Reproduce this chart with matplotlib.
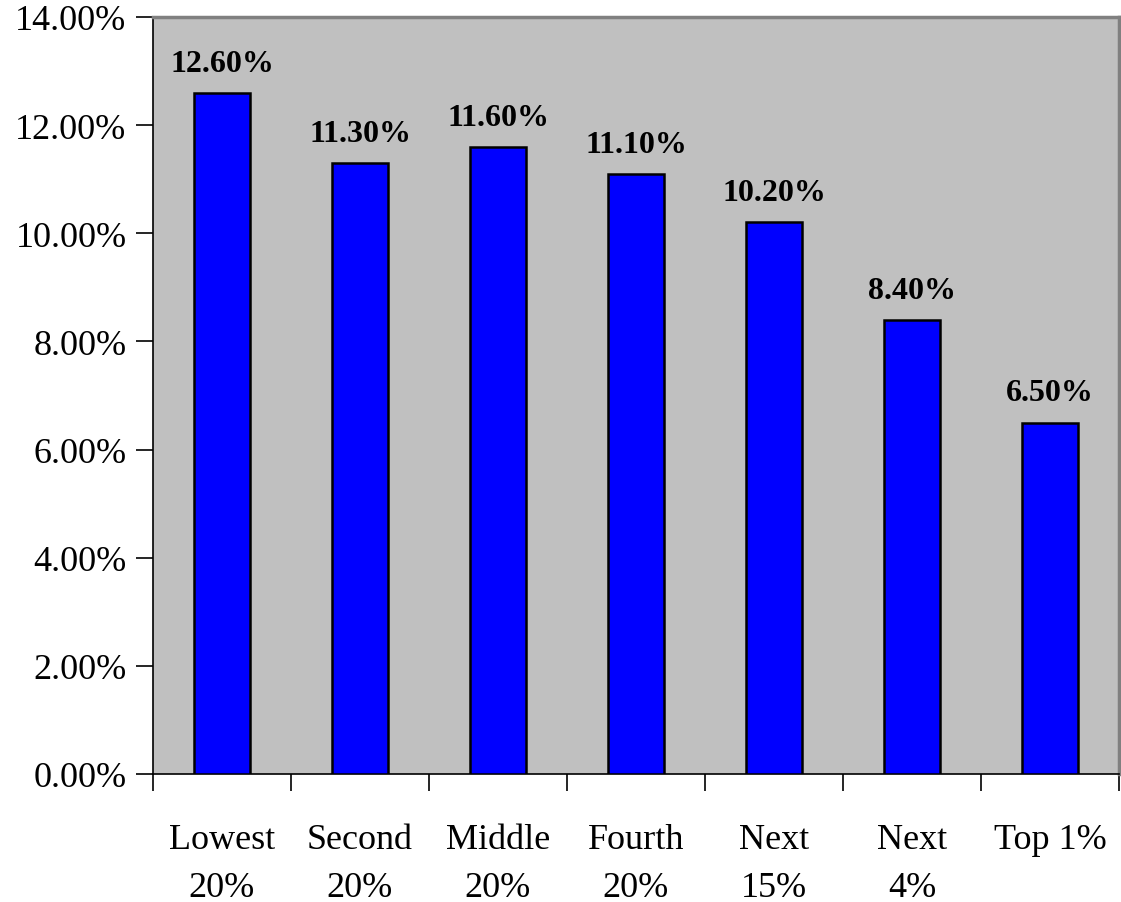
import matplotlib
matplotlib.use('Agg')
from matplotlib import pyplot as plt
from matplotlib.ticker import FuncFormatter, FixedLocator, NullFormatter
import numpy as np

groups = ["Lowest\n20%", "Second\n20%", "Middle\n20%", "Fourth\n20%", "Next\n15%", "Next\n4%", "Top 1%"]
values = [12.6, 11.3, 11.6, 11.1, 10.2, 8.4, 6.5]

plt.rcParams['font.family'] = ['Liberation Serif', 'DejaVu Serif']

fig = plt.figure(figsize=(11.21, 9.03), dpi=100)
ax = fig.add_axes([153 / 1121, 1 - 775 / 903, (1119 - 153) / 1121, (775 - 18) / 903])
ax.set_facecolor('#c0c0c0')

x = np.arange(len(values))
ax.bar(x, values, width=0.41, color='#0000ff', edgecolor='black', linewidth=1.8, zorder=3)

for xi, v in zip(x, values):
    ax.text(xi, v + 0.28, f"{v:.2f}%", ha='center', va='bottom', fontsize=23, fontweight='bold')

ax.set_xlim(-0.5, len(values) - 0.5)
ax.set_ylim(0, 14)
ax.set_yticks(np.arange(0, 14.1, 2))
ax.yaxis.set_major_formatter(FuncFormatter(lambda v, p: f"{v:.2f}%"))
ax.tick_params(axis='y', labelsize=26, length=12, width=1.2, pad=7)

# ticks on category boundaries, labels centered under bars
ax.xaxis.set_major_locator(FixedLocator(np.arange(-0.5, len(values), 1)))
ax.xaxis.set_major_formatter(NullFormatter())
ax.xaxis.set_minor_locator(FixedLocator(x))
ax.set_xticklabels(groups, minor=True)
ax.tick_params(axis='x', which='major', length=12, width=1.2)
ax.tick_params(axis='x', which='minor', length=0, labelsize=26, pad=35)
for lbl in ax.get_xticklabels(minor=True):
    lbl.set_linespacing(1.6)

for side in ['left', 'bottom']:
    ax.spines[side].set_color('black')
    ax.spines[side].set_linewidth(1.2)
for side in ['top', 'right']:
    ax.spines[side].set_color('#808080')
    ax.spines[side].set_linewidth(2.5)

fig.savefig('out.png', dpi=100)
